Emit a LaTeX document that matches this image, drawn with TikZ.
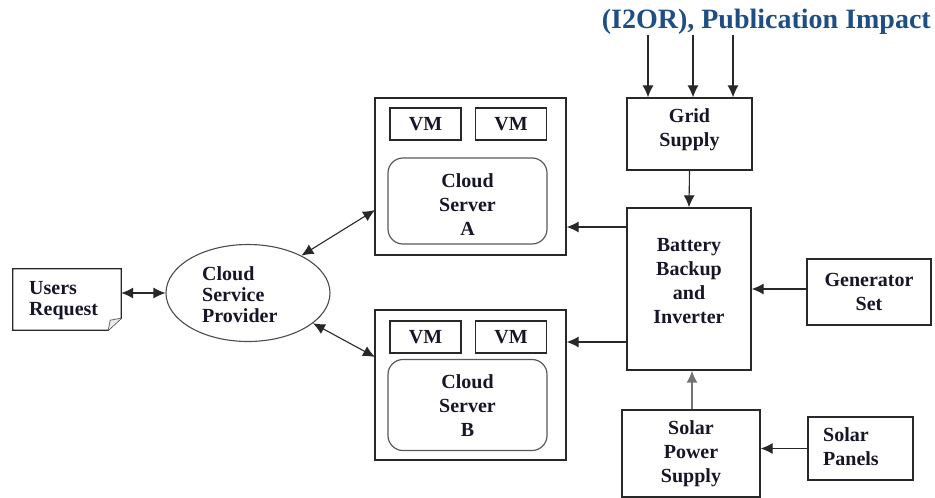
\documentclass[tikz,border=0pt]{standalone}
\usepackage{fontspec}
\setmainfont{Liberation Serif}
\usetikzlibrary{arrows.meta,calc,shapes.geometric}
\definecolor{txt}{RGB}{22,22,40}
\definecolor{hdr}{RGB}{31,78,133}
\definecolor{edge}{RGB}{40,40,40}
\begin{document}
\begin{tikzpicture}[x=1pt,y=-1pt,
  lbl/.style={font=\bfseries\fontsize{20}{24}\selectfont, text=txt, align=center},
  tight/.style={font=\bfseries\fontsize{20}{21}\selectfont},
  box/.style={lbl, draw=edge, line width=1.3pt, inner sep=0pt},
  vmbox/.style={box, minimum width=71pt, minimum height=32pt},
  inner/.style={draw=black!65, line width=1.2pt, rounded corners=15pt, inner sep=0pt},
  arr/.style={-{Latex[length=12pt,width=11pt]}, line width=1.1pt, draw=edge},
  darr/.style={{Latex[length=12pt,width=11pt]}-{Latex[length=12pt,width=11pt]}, line width=1.1pt, draw=edge}]
\useasboundingbox (0,0) rectangle (935,498);

% header line
\node[anchor=base east, inner sep=0pt, text=hdr,
      font=\bfseries\fontsize{28}{32}\selectfont] (hd) at (931,28) {(I2OR), Publication Impact};

% users request (sheet with folded corner)
\node[minimum width=108pt, minimum height=61pt, inner sep=0pt] (users) at (67,299.5) {};
\node[lbl, tight, align=left, anchor=west, inner sep=0pt] (userst) at (29,301) {Users\\Request};
\draw[edge, line width=1.3pt] (users.north west) -- (users.north east)
  -- ([yshift=12pt]users.south east) -- ([xshift=-13pt]users.south east)
  -- (users.south west) -- cycle;
\draw[black!60, fill=black!8, line width=0.8pt] ([xshift=-13pt]users.south east)
  -- ([xshift=-11pt,yshift=10pt]users.south east) -- ([yshift=12pt]users.south east);

% cloud service provider
\node[draw=black!70, line width=1.1pt, ellipse, minimum width=164pt, minimum height=97pt, inner sep=0pt] (csp) at (248,293) {};
\node[lbl, tight, align=left, anchor=west, inner sep=0pt] (cspt) at (202,295) {Cloud\\Service\\Provider};

% cloud server A
\node[box, minimum width=191pt, minimum height=157pt] (sa) at (470.5,176.5) {};
\node[vmbox] (vma1) at (425.5,124) {VM};
\node[vmbox] (vma2) at (511,124) {VM};
\node[inner, minimum width=159pt, minimum height=86pt] (ina) at (467.5,201) {};
\node[lbl, inner sep=0pt] (inat) at (467.5,205) {Cloud\\Server\\A};

% cloud server B
\node[box, minimum width=191pt, minimum height=150pt] (sb) at (470.5,385) {};
\node[vmbox] (vmb1) at (425.5,337) {VM};
\node[vmbox] (vmb2) at (511,337) {VM};
\node[inner, minimum width=159pt, minimum height=91pt] (inb) at (467.5,405) {};
\node[lbl, inner sep=0pt] (inbt) at (467.5,406) {Cloud\\Server\\B};

% power side
\node[box, minimum width=125pt, minimum height=72pt] (grid) at (689.5,134) {};
\node[lbl, inner sep=0pt] (gridt) at (689.5,130) {Grid\\Supply};
\node[box, minimum width=124pt, minimum height=162pt] (bat) at (689,289) {};
\node[lbl, inner sep=0pt] (batt) at (689,281) {Battery\\Backup\\and\\Inverter};
\node[box, minimum width=124pt, minimum height=66pt] (gen) at (869,292) {Generator\\Set};
\node[box, minimum width=138pt, minimum height=87pt] (sps) at (691,453.5) {Solar\\Power\\Supply};
\node[box, minimum width=105pt, minimum height=63pt] (pan) at (860.5,448.5) {};
\node[lbl, align=left, anchor=west, inner sep=0pt] (pant) at (823,447) {Solar\\Panels};

% feeds into the grid supply
\coordinate (f1) at (648,35);
\coordinate (f2) at (693,35);
\coordinate (f3) at (733,35);
\draw[arr] (f1) -- (grid.north -| f1);
\draw[arr] (f2) -- (grid.north -| f2);
\draw[arr] (f3) -- (grid.north -| f3);

% power flow
\draw[arr] (grid.south) -- (bat.north);
\coordinate (ya) at (0,227);
\coordinate (yb) at (0,342);
\draw[arr] (bat.west |- ya) -- (sa.east |- ya);
\draw[arr] (bat.west |- yb) -- (sb.east |- yb);
\draw[arr] (gen.west |- bat.east) -- (bat.east);
\coordinate (xs) at (692,0);
\draw[arr, draw=black!55, line width=1.6pt] (sps.north -| xs) -- (bat.south -| xs);
\draw[arr] (pan.west) -- (pan.west -| sps.east);

% requests
\draw[darr] (users.east |- csp.west) -- (csp.west);
\coordinate (pa) at (375,210);
\coordinate (pb) at (375,357);
\draw[darr] (csp.35) -- (pa);
\draw[darr] (csp.-25) -- (pb);
\end{tikzpicture}
\end{document}
